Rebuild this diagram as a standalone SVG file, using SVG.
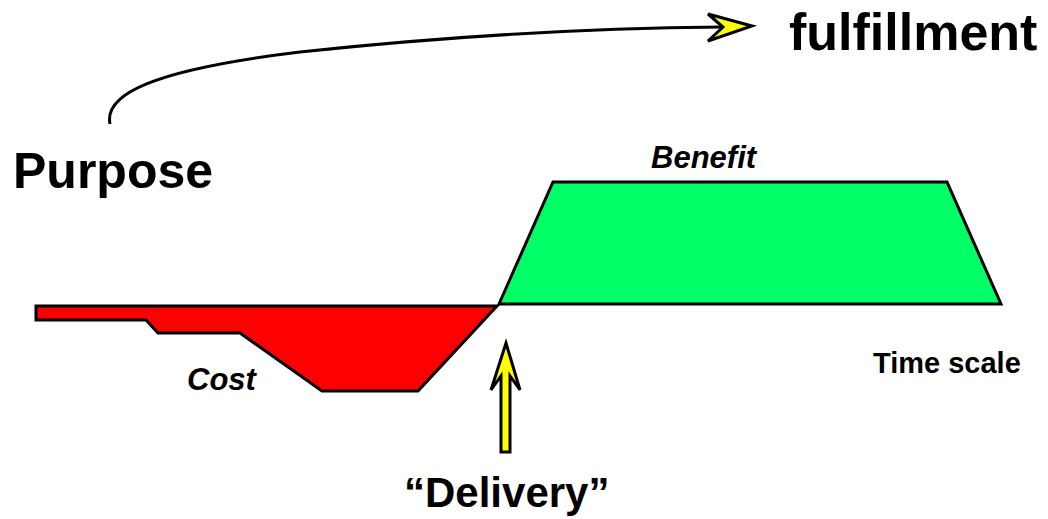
<svg xmlns="http://www.w3.org/2000/svg" width="1048" height="519" viewBox="0 0 1048 519">
<style>
.t{font-family:"Liberation Sans",Arial,sans-serif;font-weight:bold;fill:#000}
.i{font-style:italic}
.s{stroke:#000;stroke-width:3;stroke-linejoin:miter}
</style>
<rect width="1048" height="519" fill="#fff"/>
<g id="connectors">
<path d="M110,124 C104,95 150,70 300,52 C450,36 600,28 722,27" fill="none" stroke="#000" stroke-width="3"/>
<polygon class="s" points="752,26 708,14 723,27 708,41" fill="#ffff00" stroke-width="2.5"/>
<polygon class="s" points="506,343 520,390 510,376 510,452 501,452 501,376 491,390" fill="#ffff00" stroke-width="2.5"/>
</g>
<g id="benefit">
<polygon class="s" points="499,304 553,182 947,182 1001,304" fill="#00ff66"/>
</g>
<g id="cost">
<polygon class="s" points="36,306 497,306 418,391 322,391 240,333 158,333 146,320 36,320" fill="#ff0000"/>
</g>
<text class="t" x="789" y="50" font-size="52">fulfillment</text>
<text class="t" x="13" y="188" font-size="50">Purpose</text>
<text class="t i" x="651" y="168" font-size="31">Benefit</text>
<text class="t i" x="187" y="390" font-size="31">Cost</text>
<text class="t" x="873" y="373" font-size="29">Time scale</text>
<text class="t" x="404" y="507" font-size="42">“Delivery”</text>
</svg>
